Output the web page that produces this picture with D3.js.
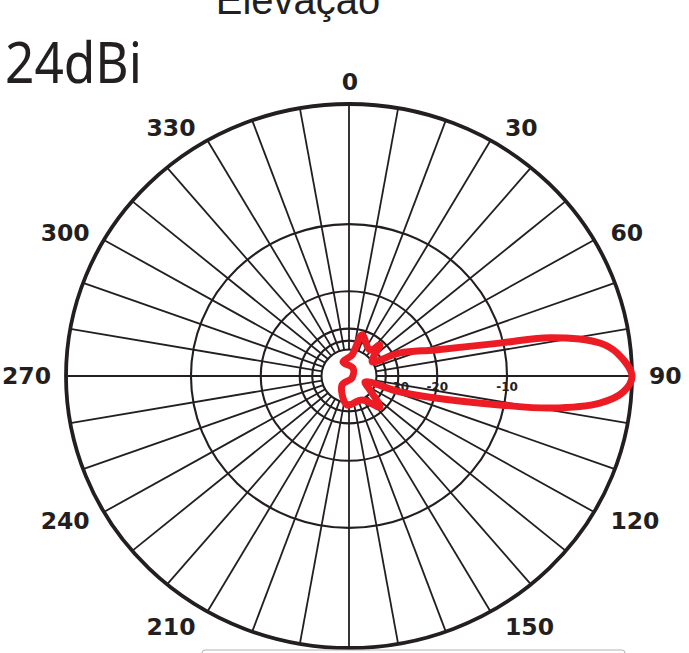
<!DOCTYPE html>
<html><head><meta charset="utf-8">
<script src="https://cdn.jsdelivr.net/npm/d3@7/dist/d3.min.js"></script>
<style>html,body{margin:0;padding:0;background:#fff;overflow:hidden}</style>
</head><body><div id="chart"></div>
<script>
// ---- data ----
const titleText = "Elevação";
const gainText = "24dBi";
const angleTicks = [0,30,60,90,120,150,210,240,270,300,330];
const spokeAngles = d3.range(0,360,10);
const ringDb = [0,-10,-20,-30,-35,-40];
const ringLabelDb = [-10,-20,-30];
const ringLabels = ["-10","-20","-30"];
// pattern (angle in degrees clockwise from 0, level in dB), in drawing order
const patAngle = [17,37.8,43.8,52,57.7,64.8,72.5,77.2,78.8,82.2,84.9,90,93.5,96.4,99.4,101.3,104.9,108,111,124.8,136.2,152.5,183.8,216.7,124.9,25.6,337.6,7.8];
const patDb    = [-31.7,-36.3,-31.7,-38.3,-40,-27.7,-19.6,-10.4,-5.5,-1.9,-0.86,0,-0.52,-1.96,-5.6,-10.5,-19.8,-28.6,-48,-41.3,-31.7,-39.6,-38.4,-54.7,-74.8,-58.8,-49.6,-43.8];

// ---- layout ----
const W=689,H=653,cx=349,cy=376,RX=283,RY=272;
const ink="#231f20", red="#ed1c24";
const arrl = db => Math.pow(0.89, -db/2);   // ARRL log scale
const sx = d3.scaleLinear().domain([-1,1]).range([cx-RX,cx+RX]);
const sy = d3.scaleLinear().domain([-1,1]).range([cy+RY,cy-RY]);
const pt = (ang,db)=>{const r=arrl(db),a=ang*Math.PI/180;return [sx(r*Math.sin(a)),sy(r*Math.cos(a))];};
const sinR = d=>Math.round(Math.sin(d*Math.PI/180)*1000)/1000;
const cosR = d=>Math.round(Math.cos(d*Math.PI/180)*1000)/1000;

const svg=d3.select("#chart").append("svg").attr("width",W).attr("height",H);
svg.append("rect").attr("width",W).attr("height",H).attr("fill","#fff");

// rings
svg.append("g").selectAll("ellipse").data(ringDb).join("ellipse")
  .attr("cx",cx).attr("cy",cy)
  .attr("rx",d=>sx(arrl(d))-cx).attr("ry",d=>cy-sy(arrl(d)))
  .attr("fill","none").attr("stroke",ink)
  .attr("stroke-width",d=>d===0?3.8:2.1);

// spokes
svg.append("g").selectAll("line").data(spokeAngles).join("line")
  .attr("x1",d=>pt(d,-40)[0]).attr("y1",d=>pt(d,-40)[1])
  .attr("x2",d=>pt(d,0)[0]).attr("y2",d=>pt(d,0)[1])
  .attr("stroke",ink).attr("stroke-width",1.8);

// ring labels
svg.append("g").selectAll("text").data(ringLabelDb).join("text")
  .attr("x",d=>pt(90,d)[0]).attr("y",cy+15)
  .attr("text-anchor","middle").attr("font-family","DejaVu Sans").attr("font-weight","bold")
  .attr("font-size",12).attr("fill",ink).text((d,i)=>ringLabels[i]);

// angle labels
svg.append("g").selectAll("text").data(angleTicks).join("text")
  .attr("x",d=>{const p=pt(d,0),s=sinR(d);return p[0]+(s>0?12+5*s:s<0?-(9+6*Math.abs(s)):1);})
  .attr("y",d=>{const p=pt(d,0),c=cosR(d);return p[1]-(c>0.99?22:(c>0?14*c:18*c));})
  .attr("text-anchor",d=>{const s=sinR(d);return s>0?"start":s<0?"end":"middle";})
  .attr("dominant-baseline","central")
  .attr("font-family","DejaVu Sans").attr("font-weight","bold").attr("font-size",23.5).attr("fill",ink)
  .text(d=>d);

// pattern
const line=d3.line().curve(d3.curveCatmullRomClosed.alpha(0.5));
svg.append("path").attr("d",line(patAngle.map((a,i)=>pt(a,patDb[i]))))
  .attr("fill","none").attr("stroke",red).attr("stroke-width",7).attr("stroke-linejoin","round");

// titles
svg.append("text").attr("x",298).attr("y",14).attr("text-anchor","middle")
  .attr("font-family","Liberation Sans").attr("font-size",40).attr("fill",ink).text(titleText);
svg.append("text").attr("x",5).attr("y",83).attr("font-family","Noto Sans").attr("font-size",57)
  .attr("textLength",137).attr("lengthAdjust","spacingAndGlyphs").attr("fill",ink).text(gainText);

// bottom box edge
svg.append("rect").attr("x",202).attr("y",650).attr("width",423).attr("height",20).attr("rx",3)
  .attr("fill","#fff").attr("stroke","#b4b4b4").attr("stroke-width",1);
</script></body></html>
